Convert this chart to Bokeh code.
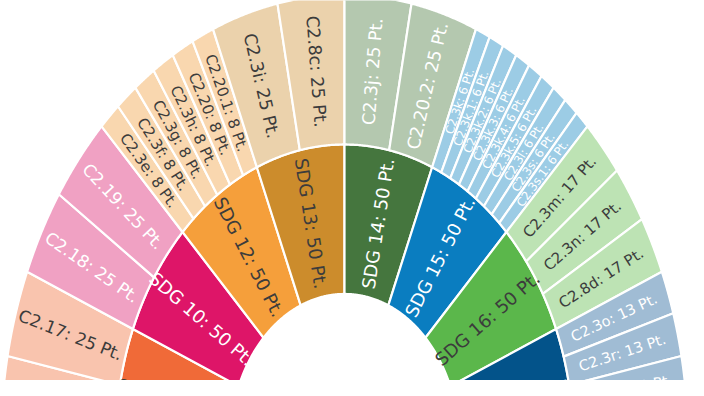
import numpy as np
from bokeh.plotting import figure
from bokeh.models import Range1d, ColumnDataSource
from bokeh.core.properties import value
from bokeh.embed import file_html
from bokeh.resources import INLINE

# ---- data ----
groups = ["SDG 9", "SDG 10", "SDG 12", "SDG 13", "SDG 14", "SDG 15", "SDG 16", "SDG 17"]
group_points = [50, 50, 50, 50, 50, 50, 50, 50]
children_names = [
    ["C2.16", "C2.17"],
    ["C2.18", "C2.19"],
    ["C2.3e", "C2.3f", "C2.3g", "C2.3h", "C2.20", "C2.20.1"],
    ["C2.3i", "C2.8c"],
    ["C2.3j", "C2.20.2"],
    ["C2.3k", "C2.3k.1", "C2.3k.2", "C2.3k.3", "C2.3k.4", "C2.3k.5", "C2.3l", "C2.3s", "C2.3s.1"],
    ["C2.3m", "C2.3n", "C2.8d"],
    ["C2.3o", "C2.3r", "C2.3t", "C2.3u"],
]
children_points = [
    [25, 25],
    [25, 25],
    [8, 8, 8, 8, 8, 8],
    [25, 25],
    [25, 25],
    [6, 6, 6, 6, 6, 6, 6, 6, 6],
    [17, 17, 17],
    [13, 13, 13, 13],
]

# ---- styles ----
inner_colors = ["#F06A38", "#DE1568", "#F59F3B", "#CC8C2C", "#45763E", "#0A7DC0", "#5BB74B", "#03538A"]
outer_colors = ["#F9C4AE", "#F0A1C3", "#F9D7AF", "#EBD2AC", "#B4C8AF", "#9CCCE5", "#BDE3B4", "#A0BCD4"]
DARK = "#3c3c3c"
WHITE = "#ffffff"
inner_text_colors = [DARK, WHITE, DARK, DARK, WHITE, WHITE, DARK, WHITE]
outer_text_colors = [DARK, WHITE, DARK, DARK, WHITE, WHITE, DARK, WHITE]
outer_font_sizes = ["17px", "17px", "15px", "17.5px", "17.5px", "11.8px", "15px", "14.5px"]
inner_font_size = "18px"

R0, R1, R2 = 1.0, 2.0, 3.0
W, H = 688, 380
x0, x1 = -3.004, 3.004
y0, y1 = 0.421, 2.963
sx = W / (x1 - x0)
sy = H / (y1 - y0)

total = float(sum(group_points))


def wedge(a_start, a_end, r_in, r_out):
    t = np.linspace(a_start, a_end, 60)
    xs = np.concatenate([r_out * np.cos(t), r_in * np.cos(t[::-1])])
    ys = np.concatenate([r_out * np.sin(t), r_in * np.sin(t[::-1])])
    return list(xs), list(ys)


def label_angle(theta):
    phi = np.arctan2(np.sin(theta) * sy, np.cos(theta) * sx)
    if np.cos(theta) < -1e-9:
        phi -= np.pi
    return phi


pxs, pys, pcol = [], [], []
tx, ty, tt, ta, tc, tf = [], [], [], [], [], []

cum = 0.0
for gi, g in enumerate(groups):
    a_s = np.pi - cum / total * np.pi
    a_e = np.pi - (cum + group_points[gi]) / total * np.pi
    xs, ys = wedge(a_s, a_e, R0, R1)
    pxs.append(xs); pys.append(ys); pcol.append(inner_colors[gi])
    mid = (a_s + a_e) / 2
    rm = (R0 + R1) / 2
    tx.append(rm * np.cos(mid)); ty.append(rm * np.sin(mid))
    tt.append(f"{g}: {group_points[gi]} Pt.")
    ta.append(label_angle(mid)); tc.append(inner_text_colors[gi]); tf.append(inner_font_size)

    csum = float(sum(children_points[gi]))
    ccum = 0.0
    for ci, cname in enumerate(children_names[gi]):
        cv = children_points[gi][ci]
        c_s = a_s + (a_e - a_s) * ccum / csum
        c_e = a_s + (a_e - a_s) * (ccum + cv) / csum
        xs, ys = wedge(c_s, c_e, R1, R2)
        pxs.append(xs); pys.append(ys); pcol.append(outer_colors[gi])
        cm = (c_s + c_e) / 2
        rm2 = (R1 + R2) / 2
        tx.append(rm2 * np.cos(cm)); ty.append(rm2 * np.sin(cm))
        tt.append(f"{cname}: {cv} Pt.")
        ta.append(label_angle(cm)); tc.append(outer_text_colors[gi]); tf.append(outer_font_sizes[gi])
        ccum += cv
    cum += group_points[gi]

p = figure(width=W, height=H, x_range=Range1d(x0, x1), y_range=Range1d(y0, y1),
           output_backend="svg", toolbar_location=None, min_border=0)
p.axis.visible = False
p.grid.visible = False
p.outline_line_color = None
p.background_fill_color = "white"
p.border_fill_color = "white"

p.patches(xs=pxs, ys=pys, fill_color=pcol, line_color="white", line_width=2.2)

src = ColumnDataSource(dict(x=tx, y=ty, text=tt, angle=ta, color=tc, size=tf))
p.text(x="x", y="y", text="text", angle="angle", source=src, text_color="color",
       text_font_size="size", text_font=value("DejaVu Sans"),
       text_align="center", text_baseline="middle")

open("out.html", "w").write(file_html(p, INLINE))
